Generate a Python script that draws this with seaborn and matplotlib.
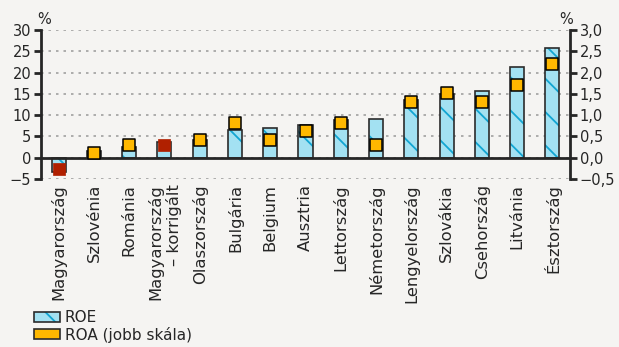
import matplotlib
matplotlib.use("Agg")
import matplotlib.pyplot as plt
import matplotlib.ticker as mticker
from matplotlib.patches import Patch
import numpy as np
import pandas as pd
import seaborn as sns

# data
countries = ["Magyarország", "Szlovénia", "Románia", "Magyarország\n– korrigált", "Olaszország",
             "Bulgária", "Belgium", "Ausztria", "Lettország", "Németország",
             "Lengyelország", "Szlovákia", "Csehország", "Litvánia", "Észtország"]
roe = [-3.3, 1.5, 2.6, 3.7, 4.2, 6.4, 6.9, 7.7, 8.8, 9.2, 13.5, 15.0, 15.7, 21.3, 25.8]
roa = [-0.27, 0.12, 0.30, 0.31, 0.41, 0.81, 0.41, 0.62, 0.81, 0.31, 1.31, 1.51, 1.30, 1.71, 2.21]
highlight = [True, False, False, True, False, False, False, False, False, False,
             False, False, False, False, False]

bg = "#F5F4F2"
fill_blue = "#A3E1F2"
hatch_blue = "#12A5D2"
edge = "#2B2B2B"
orange = "#FFB800"
red = "#B02000"

sns.set_style("white")
plt.rcParams["font.family"] = ["DejaVu Sans"]
plt.rcParams["hatch.linewidth"] = 1.3

df = pd.DataFrame({"country": countries, "roe": roe, "roa": roa, "hl": highlight})
df["pos"] = np.arange(len(df))

fig = plt.figure(figsize=(6.19, 3.47), dpi=100, facecolor=bg)
ax = fig.add_axes([41 / 619, 1 - 179 / 347, 529 / 619, 149 / 347])
ax.set_facecolor(bg)

# ROE bars: hatched fill first, then dark outline
sns.barplot(data=df, x="country", y="roe", color=fill_blue, width=0.4,
            edgecolor=hatch_blue, linewidth=0, hatch="\\", saturation=1, ax=ax)
sns.barplot(data=df, x="country", y="roe", color=edge, width=0.4,
            fill=False, linewidth=1.2, ax=ax)

ax.set_xlim(-0.5, len(df) - 0.5)
ax.set_ylim(-5, 30)
ax.set_yticks(range(-5, 31, 5))
ax.yaxis.set_major_formatter(mticker.FuncFormatter(lambda v, p: f"{int(v)}".replace("-", "\u2212")))
ax.set_axisbelow(True)
ax.yaxis.grid(True, linestyle=(0, (1.5, 3)), color="#A0A0A0", linewidth=1.2)
ax.set_xlabel("")
ax.set_ylabel("")

ax.spines["top"].set_visible(False)
ax.spines["right"].set_visible(False)
ax.spines["bottom"].set_position(("data", 0))
ax.spines["bottom"].set_linewidth(2)
ax.spines["left"].set_linewidth(2)

ax.set_xticks(df["pos"])
ax.set_xticklabels(countries, rotation=90, va="top", ha="center", fontsize=11.8,
                   linespacing=1.2, multialignment="right")
ax.set_xticks(np.arange(0.5, len(df) - 1, 1), minor=True)
ax.tick_params(axis="x", which="major", length=0, pad=19)
ax.tick_params(axis="x", which="minor", length=4, width=2, direction="out", color="black")
ax.tick_params(axis="y", length=5, width=2, direction="out", labelsize=10.5, pad=2)

# ROA markers on the right scale
ax2 = ax.twinx()
ax2.set_ylim(-0.5, 3.0)
sns.scatterplot(data=df[~df["hl"]], x="pos", y="roa", marker="s", s=72, color=orange,
                edgecolor="black", linewidth=1.1, ax=ax2, zorder=5)
sns.scatterplot(data=df[df["hl"]], x="pos", y="roa", marker="s", s=72, color=red,
                edgecolor=red, linewidth=0.5, ax=ax2, zorder=5)
ax2.set_xlim(-0.5, len(df) - 0.5)
ax2.set_yticks(np.arange(-0.5, 3.01, 0.5))
ax2.yaxis.set_major_formatter(mticker.FuncFormatter(lambda v, p: f"{v:.1f}".replace(".", ",").replace("-", "\u2212")))
ax2.set_ylabel("")
ax2.set_xlabel("")
for s in ["top", "left", "bottom"]:
    ax2.spines[s].set_visible(False)
ax2.spines["right"].set_linewidth(2)
ax2.tick_params(axis="y", length=5, width=2, direction="out", labelsize=10.5, pad=2)

fig.text(44 / 619, 1 - 27 / 347, "%", fontsize=10.5, ha="center", va="bottom")
fig.text(566 / 619, 1 - 27 / 347, "%", fontsize=10.5, ha="center", va="bottom")

roe_handle = (Patch(facecolor=fill_blue, edgecolor=hatch_blue, hatch="\\", linewidth=0),
              Patch(facecolor="none", edgecolor=edge, linewidth=1.2))
roa_handle = Patch(facecolor=orange, edgecolor=edge, linewidth=1.2)
fig.legend([roe_handle, roa_handle], ["ROE", "ROA (jobb skála)"],
           loc="upper left", bbox_to_anchor=(34 / 619, 1 - 310 / 347),
           frameon=False, fontsize=11, handlelength=1.7, handleheight=0.65,
           handletextpad=0.3, labelspacing=0.1, borderpad=0, borderaxespad=0)

fig.savefig("out.png", dpi=100, facecolor=bg)
